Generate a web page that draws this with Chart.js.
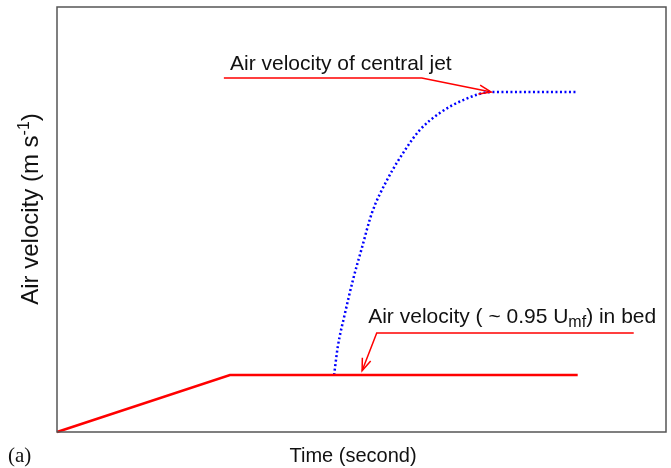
<!DOCTYPE html>
<html>
<head>
<meta charset="utf-8">
<script src="https://cdn.jsdelivr.net/npm/chart.js@4.4.1/dist/chart.umd.min.js"></script>
<style>
    html, body { margin: 0; padding: 0; background: #fff; }
</style>
</head>
<body>
<canvas id="airChart" width="671" height="468"></canvas>
<script>
// bed air velocity (red): ramp up then hold at ~0.95 Umf
const bedTime = [0, 28.4, 85.5];
const bedVelocity = [0, 13.4, 13.4];

// central jet air velocity (blue dotted)
const jetTime = [45.5, 46.1, 47.3, 48.6, 50.1, 51.7, 54.2, 57.5, 59.6, 62.9, 66.7, 71.3, 85.5];
const jetVelocity = [13.4, 20.0, 28.0, 35.8, 43.5, 51.5, 59.3, 67.1, 71.1, 75.1, 78.1, 80.0, 80.0];

// callout leader lines, the last point is where the arrow points
const jetCalloutX = [27.4, 59.9, 71.3];
const jetCalloutY = [83.3, 83.3, 80.0];
const bedCalloutX = [94.7, 52.5, 50.1];
const bedCalloutY = [23.3, 23.3, 14.4];

const SANS = '"Liberation Sans", Arial, Helvetica, sans-serif';

function toPoints(xs, ys) {
    return xs.map((v, i) => ({x: v, y: ys[i]}));
}

// draws a text made of parts, some of them sub/superscript
function drawRich(ctx, parts, x, y, align) {
    let total = 0;
    parts.forEach(p => {
        ctx.font = p.size + 'px ' + SANS;
        p.w = ctx.measureText(p.text).width;
        total += p.w;
    });
    let cx = align === 'center' ? x - total / 2 : x;
    parts.forEach(p => {
        ctx.font = p.size + 'px ' + SANS;
        ctx.fillText(p.text, cx, y + (p.shift || 0));
        cx += p.w;
    });
}

const decorPlugin = {
    id: 'decor',
    afterDatasetsDraw(chart) {
        const {ctx, chartArea: a, scales: {x, y}} = chart;
        ctx.save();

        // frame round the plot
        ctx.strokeStyle = '#555';
        ctx.lineWidth = 1.5;
        ctx.strokeRect(a.left, a.top, a.right - a.left, a.bottom - a.top);

        // open arrow heads on the callouts
        [2, 3].forEach(i => {
            const pts = chart.getDatasetMeta(i).data;
            const tip = pts[pts.length - 1], from = pts[pts.length - 2];
            const ang = Math.atan2(tip.y - from.y, tip.x - from.x);
            ctx.strokeStyle = '#ff0000';
            ctx.lineWidth = 1.5;
            ctx.beginPath();
            ctx.moveTo(tip.x - 13 * Math.cos(ang - 0.35), tip.y - 13 * Math.sin(ang - 0.35));
            ctx.lineTo(tip.x, tip.y);
            ctx.lineTo(tip.x - 13 * Math.cos(ang + 0.35), tip.y - 13 * Math.sin(ang + 0.35));
            ctx.stroke();
        });

        // callout texts
        ctx.fillStyle = '#111';
        ctx.textBaseline = 'alphabetic';
        ctx.textAlign = 'left';
        drawRich(ctx, [{text: 'Air velocity of central jet', size: 21}],
            x.getPixelForValue(28.4), y.getPixelForValue(85.2), 'left');
        drawRich(ctx, [
            {text: 'Air velocity ( ~ 0.95 U', size: 21},
            {text: 'mf', size: 16, shift: 4},
            {text: ') in bed', size: 21}
        ], x.getPixelForValue(51.1), y.getPixelForValue(25.6), 'left');

        // axis titles
        drawRich(ctx, [{text: 'Time (second)', size: 20}], 353, 462, 'center');

        ctx.save();
        ctx.translate(38, 209);
        ctx.rotate(-Math.PI / 2);
        drawRich(ctx, [
            {text: 'Air velocity (m s', size: 24},
            {text: '-1', size: 16, shift: -9},
            {text: ')', size: 24}
        ], 0, 0, 'center');
        ctx.restore();

        // panel letter
        ctx.font = '21px "Liberation Serif", "Times New Roman", serif';
        ctx.fillText('(a)', 8, 462);

        ctx.restore();
    }
};

const ctx = document.getElementById('airChart').getContext('2d');
window.airChart = new Chart(ctx, {
    type: 'scatter',
    data: {
        datasets: [
            {
                label: 'Air velocity in bed',
                data: toPoints(bedTime, bedVelocity),
                showLine: true,
                borderColor: '#ff0000',
                borderWidth: 2.5,
                pointRadius: 0,
                clip: false
            },
            {
                label: 'Air velocity of central jet',
                data: toPoints(jetTime, jetVelocity),
                showLine: true,
                borderColor: '#0000ff',
                borderWidth: 2.5,
                borderDash: [2, 2.5],
                cubicInterpolationMode: 'monotone',
                pointRadius: 0,
                clip: false
            },
            {
                label: 'jet callout',
                data: toPoints(jetCalloutX, jetCalloutY),
                showLine: true,
                borderColor: '#ff0000',
                borderWidth: 1.5,
                pointRadius: 0,
                clip: false
            },
            {
                label: 'bed callout',
                data: toPoints(bedCalloutX, bedCalloutY),
                showLine: true,
                borderColor: '#ff0000',
                borderWidth: 1.5,
                pointRadius: 0,
                clip: false
            }
        ]
    },
    options: {
        responsive: false,
        animation: false,
        devicePixelRatio: 1,
        layout: { padding: { top: 7, right: 5, left: 0, bottom: 0 } },
        plugins: {
            legend: { display: false },
            tooltip: { enabled: false }
        },
        scales: {
            x: {
                type: 'linear', min: 0, max: 100,
                ticks: { display: false },
                grid: { display: false },
                border: { display: false },
                afterFit: s => { s.height = 36; }
            },
            y: {
                type: 'linear', min: 0, max: 100,
                ticks: { display: false },
                grid: { display: false },
                border: { display: false },
                afterFit: s => { s.width = 57; }
            }
        }
    },
    plugins: [decorPlugin]
});
</script>
</body>
</html>
